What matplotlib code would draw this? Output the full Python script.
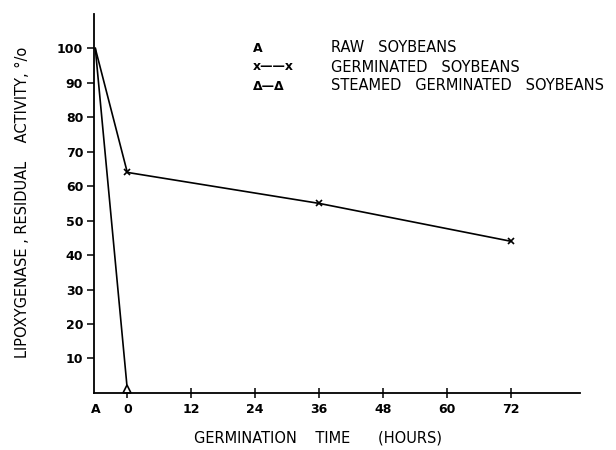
import matplotlib
matplotlib.use("Agg")
import matplotlib.pyplot as plt

plt.rcParams['font.family'] = ['DejaVu Sans']

raw_x = [-6]
raw_y = [100]
germ_x = [-6, 0, 36, 72]
germ_y = [100, 64, 55, 44]
steam_x = [-6, 0]
steam_y = [100, 1]
xticks = [-6, 0, 12, 24, 36, 48, 60, 72]
xticklabels = ['A', '0', '12', '24', '36', '48', '60', '72']
yticks = [10, 20, 30, 40, 50, 60, 70, 80, 90, 100]

fig = plt.figure(figsize=(6.16, 4.5), dpi=100)
ax = fig.add_axes([0.153, 0.127, 0.789, 0.842])

ax.plot(germ_x, germ_y, color='black', lw=1.2, marker='x', ms=5, mew=1.2,
        markevery=[1, 2, 3])
ax.plot(steam_x, steam_y, color='black', lw=1.2, marker='^', ms=6, mfc='white',
        mew=1.2, markevery=[1], clip_on=False)
ax.plot(raw_x, raw_y, color='black', ls='none')

ax.set_xlim(-6.2, 85)
ax.set_ylim(0, 110)
ax.spines['top'].set_visible(False)
ax.spines['right'].set_visible(False)
for s in ['left', 'bottom']:
    ax.spines[s].set_linewidth(1.3)

ax.set_xticks(xticks)
ax.set_xticklabels(xticklabels, fontsize=9, fontweight='bold')
ax.set_yticks(yticks)
ax.set_yticklabels([str(v) for v in yticks], fontsize=9, fontweight='bold')
ax.tick_params(axis='x', direction='inout', length=7, width=1.1, pad=4)
ax.tick_params(axis='y', direction='out', length=5, width=1.1, pad=3)
ax.get_xticklines()[0].set_visible(False)
ax.get_xticklines()[1].set_visible(False)

fig.text(318 / 616, 1 - 438 / 450, 'GERMINATION    TIME      (HOURS)',
         fontsize=10.5, ha='center', va='center')
fig.text(23 / 616, 1 - 202 / 450, 'LIPOXYGENASE , RESIDUAL    ACTIVITY, °/o',
         fontsize=10.5, ha='center', va='center', rotation=90)

# legend as text
tx = 253 / 616
lx = 331 / 616
rows = [(1 - 48 / 450, 'A', 'RAW   SOYBEANS'),
        (1 - 67 / 450, 'x——x', 'GERMINATED   SOYBEANS'),
        (1 - 86 / 450, 'Δ—Δ', 'STEAMED   GERMINATED   SOYBEANS')]
for y, sym, lab in rows:
    fig.text(tx, y, sym, fontsize=9, fontweight='bold', va='center', ha='left')
    fig.text(lx, y, lab, fontsize=10.5, va='center', ha='left')

fig.savefig('out.png', dpi=100)
